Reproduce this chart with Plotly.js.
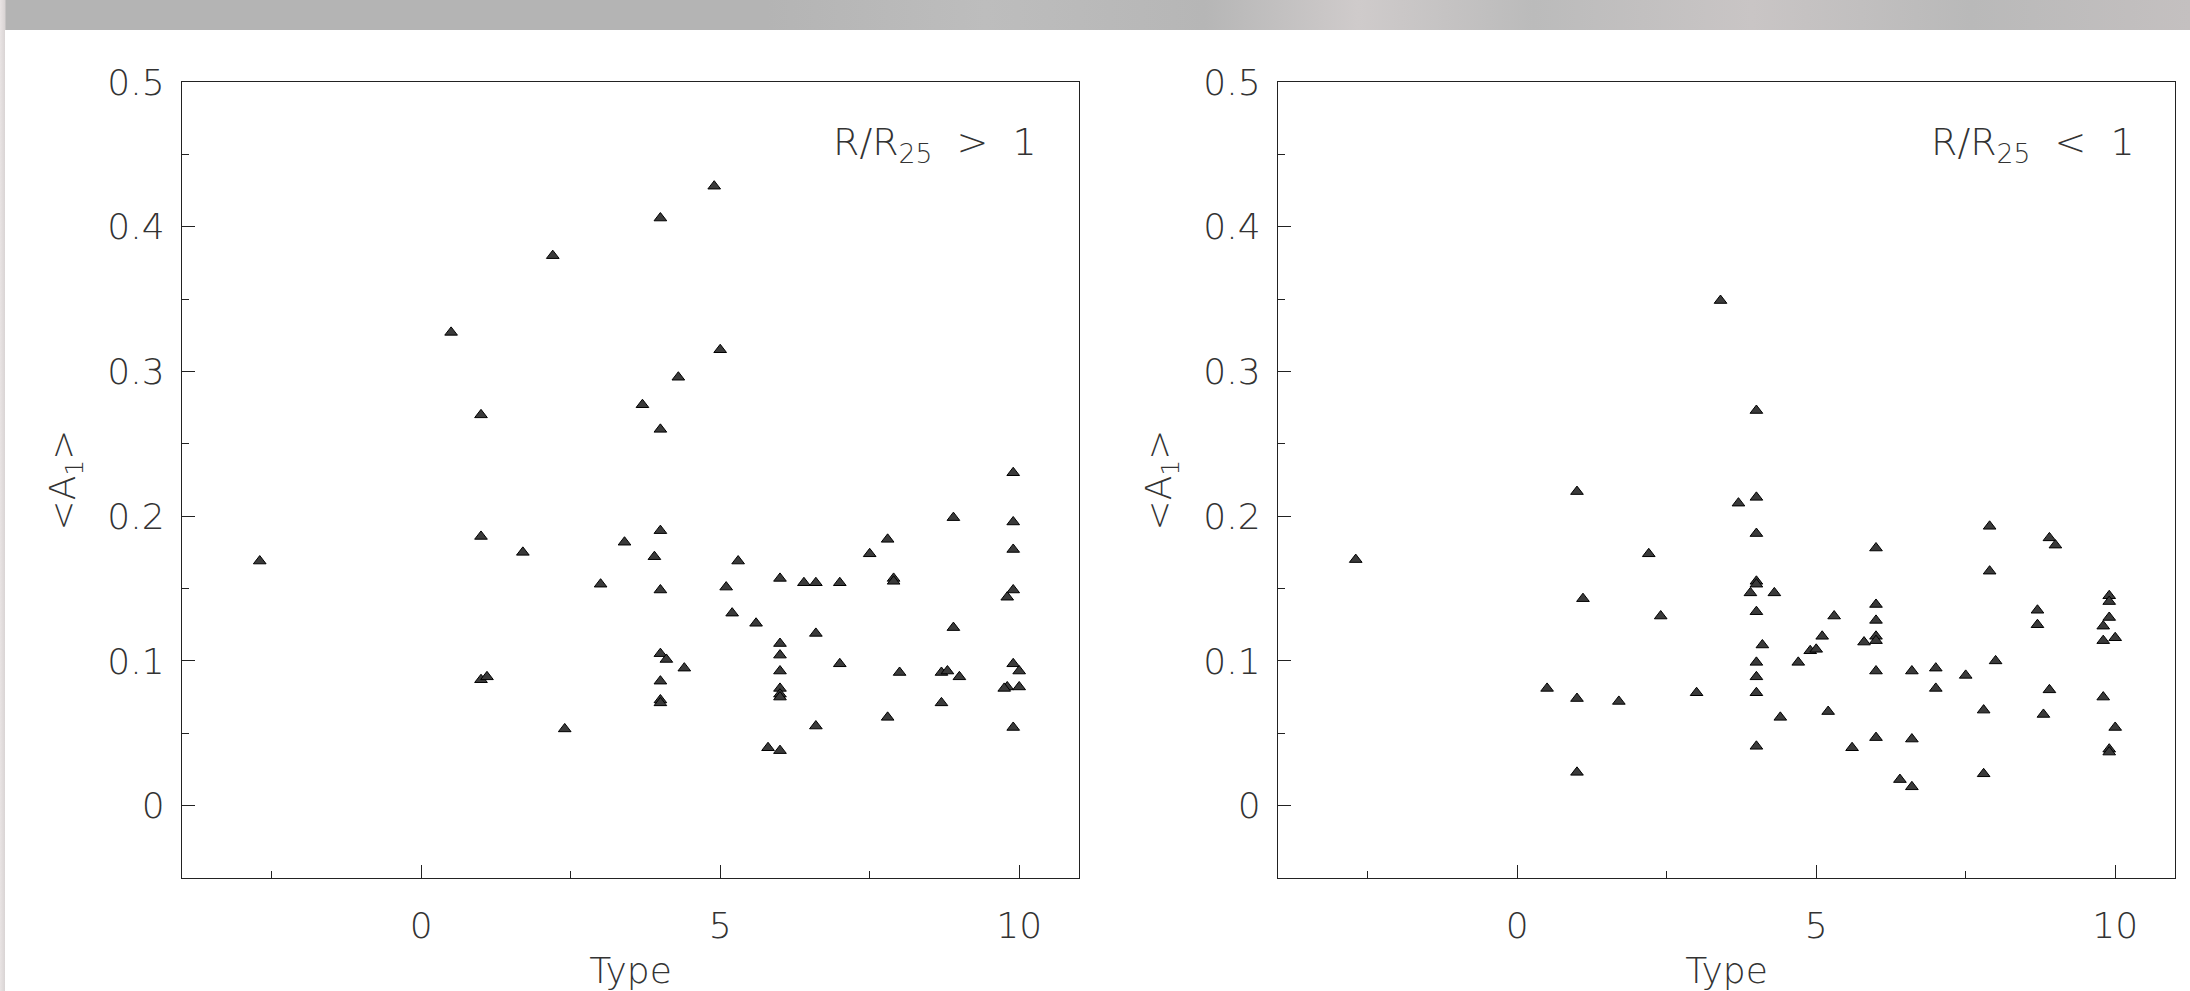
<!DOCTYPE html>
<html>
<head>
<meta charset="utf-8">
<script src="https://cdn.plot.ly/plotly-3.0.1.min.js"></script>
<style>
  html, body { margin: 0; padding: 0; width: 2190px; height: 991px; overflow: hidden; }
  body { background: linear-gradient(to right, #e9e4e4 0px, #d9d4d4 5px, #b4b4b4 6px, #b4b4b4 35%, #bdbdbd 45%, #b6b6b6 55%, #cfcbcb 62%, #bbbbbb 70%, #c9c5c5 80%, #b9b9b9 90%, #c4c0c0 100%); }
  #chart { position: absolute; left: 5px; top: 30px; width: 2185px; height: 961px; background: #fff; }
</style>
</head>
<body>
<div id="chart"></div>
<script>
// R/R25 > 1 panel
const outerType = [-2.7, 0.5, 1.0, 1.0, 1.0, 1.1, 1.7, 2.2, 2.4, 3.0, 3.4, 3.7, 3.9, 4.0, 4.0, 4.0, 4.0, 4.0, 4.1, 4.0, 4.0, 4.0, 4.3, 4.4, 4.9, 5.0, 5.1, 5.2, 5.3, 5.6, 5.8, 6.0, 6.0, 6.0, 6.0, 6.0, 6.0, 6.0, 6.0, 6.4, 6.6, 6.6, 6.6, 7.0, 7.0, 7.5, 7.8, 7.8, 7.9, 7.9, 8.0, 8.7, 8.7, 8.8, 8.9, 8.9, 9.0, 9.9, 9.9, 9.9, 9.9, 9.8, 9.9, 10.0, 9.8, 9.75, 10.0, 9.9];
const outerA1 = [0.169, 0.327, 0.270, 0.186, 0.087, 0.089, 0.175, 0.380, 0.053, 0.153, 0.182, 0.277, 0.172, 0.406, 0.260, 0.190, 0.149, 0.105, 0.101, 0.086, 0.073, 0.071, 0.296, 0.095, 0.428, 0.315, 0.151, 0.133, 0.169, 0.126, 0.040, 0.157, 0.112, 0.104, 0.093, 0.081, 0.077, 0.075, 0.038, 0.154, 0.154, 0.119, 0.055, 0.154, 0.098, 0.174, 0.184, 0.061, 0.157, 0.155, 0.092, 0.092, 0.071, 0.093, 0.199, 0.123, 0.089, 0.230, 0.196, 0.177, 0.149, 0.144, 0.098, 0.093, 0.082, 0.081, 0.082, 0.054];

// R/R25 < 1 panel
const innerType = [-2.7, 0.5, 1.0, 1.0, 1.0, 1.1, 1.7, 2.2, 2.4, 3.0, 3.4, 3.7, 3.9, 4.0, 4.0, 4.0, 4.0, 4.0, 4.0, 4.0, 4.0, 4.0, 4.0, 4.1, 4.3, 4.4, 4.7, 4.9, 5.0, 5.1, 5.2, 5.3, 5.6, 5.8, 6.0, 6.0, 6.0, 6.0, 6.0, 6.0, 6.0, 6.4, 6.6, 6.6, 6.6, 7.0, 7.0, 7.5, 7.8, 7.8, 7.9, 7.9, 8.0, 8.7, 8.7, 8.8, 8.9, 8.9, 9.0, 9.8, 9.8, 9.8, 9.9, 9.9, 9.9, 9.9, 9.9, 10.0, 10.0];
const innerA1 = [0.170, 0.081, 0.217, 0.074, 0.023, 0.143, 0.072, 0.174, 0.131, 0.078, 0.349, 0.209, 0.147, 0.273, 0.213, 0.188, 0.155, 0.153, 0.134, 0.099, 0.089, 0.078, 0.041, 0.111, 0.147, 0.061, 0.099, 0.107, 0.108, 0.117, 0.065, 0.131, 0.040, 0.113, 0.178, 0.139, 0.128, 0.117, 0.114, 0.093, 0.047, 0.018, 0.093, 0.046, 0.013, 0.095, 0.081, 0.090, 0.066, 0.022, 0.193, 0.162, 0.100, 0.135, 0.125, 0.063, 0.185, 0.080, 0.180, 0.124, 0.114, 0.075, 0.145, 0.141, 0.130, 0.039, 0.037, 0.116, 0.054];

const panelLabels = ['R/R<sub>25</sub>\u00a0 >\u00a0 1', 'R/R<sub>25</sub>\u00a0 <\u00a0 1'];
const xTitle = 'Type';
const yTitle = '&lt;A<sub>1</sub>&gt;';

const FONT = '"DejaVu Sans", "Liberation Sans", sans-serif';
const W = 200;
const marker = { symbol: 'triangle-up', size: 11, color: '#3a3a3a', line: { color: '#000', width: 1 } };

const traces = [
  { type: 'scatter', mode: 'markers', x: outerType, y: outerA1, xaxis: 'x', yaxis: 'y', marker: marker, hoverinfo: 'x+y' },
  { type: 'scatter', mode: 'markers', x: innerType, y: innerA1, xaxis: 'x2', yaxis: 'y2', marker: marker, hoverinfo: 'x+y' }
];

function xAxis(domain, anchor) {
  return {
    domain: domain, anchor: anchor, range: [-4, 11], autorange: false,
    tickmode: 'linear', tick0: 0, dtick: 5,
    ticks: 'inside', ticklen: 13, tickwidth: 1, tickcolor: '#222',
    minor: { ticks: 'inside', ticklen: 7, dtick: 2.5, tick0: 0, tickcolor: '#222', tickwidth: 1 },
    showline: true, linecolor: '#222', linewidth: 1.2, mirror: true,
    showgrid: false, zeroline: false,
    tickfont: { family: FONT, size: 36, color: '#333', weight: W },
    ticklabelstandoff: 16,
    title: { text: xTitle, font: { family: FONT, size: 36, color: '#333', weight: W }, standoff: 25 }
  };
}
function yAxis(anchor) {
  return {
    domain: [0, 1], anchor: anchor, range: [-0.05, 0.5], autorange: false,
    tickmode: 'linear', tick0: 0, dtick: 0.1, tickformat: '.1~f',
    ticks: 'inside', ticklen: 13, tickwidth: 1, tickcolor: '#222',
    minor: { ticks: 'inside', ticklen: 7, dtick: 0.05, tick0: 0, tickcolor: '#222', tickwidth: 1 },
    showline: true, linecolor: '#222', linewidth: 1.2, mirror: true,
    showgrid: false, zeroline: false,
    tickfont: { family: FONT, size: 36, color: '#333', weight: W },
    ticklabelstandoff: 9,
    title: { text: yTitle, font: { family: FONT, size: 36, color: '#333', weight: W }, standoff: 20 }
  };
}

const layout = {
  width: 2185, height: 961,
  margin: { l: 177, r: 15, t: 52, b: 113, pad: 0 },
  paper_bgcolor: '#ffffff', plot_bgcolor: '#ffffff',
  showlegend: false,
  xaxis: xAxis([0, 0.45007], 'y'),
  yaxis: yAxis('x'),
  xaxis2: xAxis([0.54992, 1], 'y2'),
  yaxis2: yAxis('x2'),
  annotations: [
    { xref: 'x', yref: 'y', x: 10.33, y: 0.457, xanchor: 'right', yanchor: 'middle', text: panelLabels[0], showarrow: false, font: { family: FONT, size: 38, color: '#333', weight: W } },
    { xref: 'x2', yref: 'y2', x: 10.37, y: 0.457, xanchor: 'right', yanchor: 'middle', text: panelLabels[1], showarrow: false, font: { family: FONT, size: 38, color: '#333', weight: W } }
  ]
};

Plotly.newPlot('chart', traces, layout, { displayModeBar: false, staticPlot: true });
</script>
</body>
</html>
